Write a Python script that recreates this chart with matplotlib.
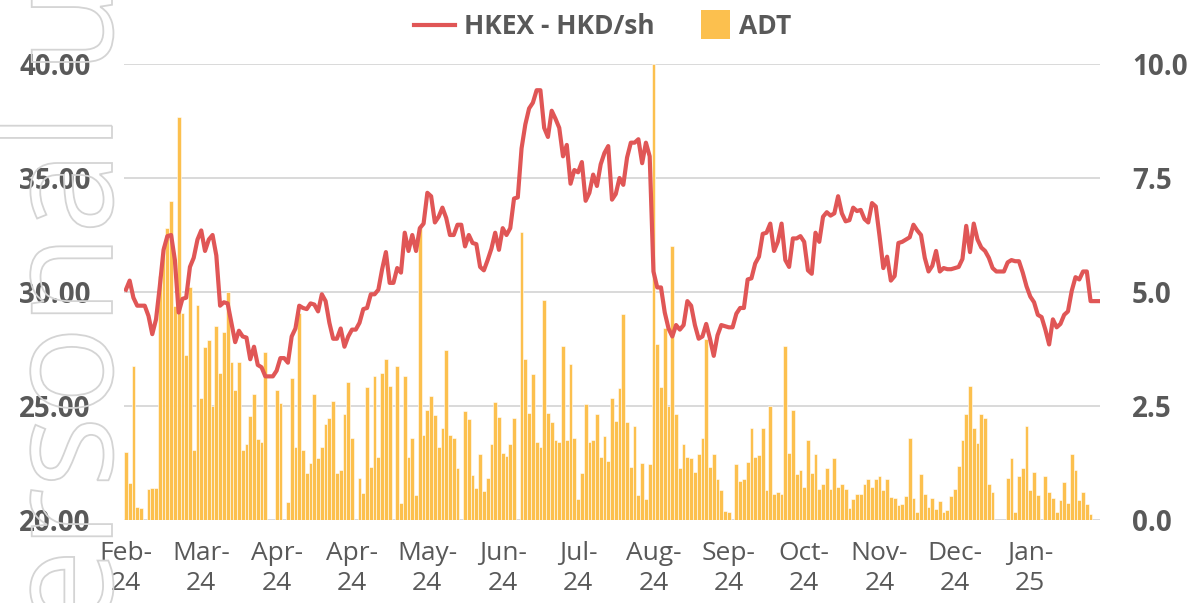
import numpy as np
import matplotlib
matplotlib.use("Agg")
import matplotlib.pyplot as plt
from matplotlib.textpath import TextPath
from matplotlib.patches import PathPatch, Patch, Rectangle
from matplotlib.lines import Line2D
from matplotlib.font_manager import FontProperties
from matplotlib.transforms import Affine2D
from matplotlib.legend_handler import HandlerPatch

# ---------------- data ----------------
tick_labels = ["Feb-\n24", "Mar-\n24", "Apr-\n24", "Apr-\n24", "May-\n24", "Jun-\n24",
               "Jul-\n24", "Aug-\n24", "Sep-\n24", "Oct-\n24", "Nov-\n24", "Dec-\n24", "Jan-\n25"]
tick_step = 20

price = [
    30.1, 30.5, 29.75, 29.4, 29.4, 29.4, 28.95, 28.15, 28.8, 30.25,
    31.85, 32.45, 32.5, 31.4, 29.1, 29.7, 29.75, 31.1, 31.5, 32.3,
    32.7, 31.8, 32.3, 32.5, 31.6, 29.4, 29.55, 29.5, 28.65, 27.8,
    28.3, 28.05, 28.0, 27.05, 27.6, 26.8, 26.7, 26.3, 26.3, 26.3,
    26.55, 27.1, 27.1, 26.9, 28.05, 28.4, 29.4, 29.3, 29.25, 29.5,
    29.45, 29.15, 29.9, 29.6, 28.65, 27.95, 27.95, 28.4, 27.6, 28.05,
    28.35, 28.35, 28.65, 29.25, 29.3, 29.9, 29.9, 30.1, 31.0, 31.75,
    30.4, 30.4, 31.05, 30.85, 32.6, 31.8, 32.5, 31.8, 32.8, 33.0,
    34.35, 34.2, 33.05, 33.3, 33.7, 33.25, 32.5, 32.5, 32.95, 32.95,
    32.0, 32.5, 32.15, 32.1, 31.1, 30.95, 31.4, 31.9, 32.6, 31.85,
    32.8, 32.5, 32.8, 34.1, 34.15, 36.3, 37.35, 38.05, 38.3, 38.85,
    38.85, 37.2, 36.8, 37.95, 37.6, 37.2, 35.95, 36.45, 34.75, 35.35,
    35.25, 35.7, 34.0, 34.35, 35.15, 34.65, 35.6, 36.1, 36.4, 34.05,
    34.3, 35.0, 34.7, 35.9, 36.55, 36.55, 36.7, 35.65, 36.55, 35.95,
    30.9, 30.2, 30.2, 29.1, 28.4, 28.05, 28.55, 28.35, 28.55, 29.6,
    29.4, 28.55, 27.95, 28.05, 28.6, 27.95, 27.2, 28.1, 28.55, 28.5,
    28.45, 28.45, 29.05, 29.3, 29.3, 30.55, 30.6, 31.25, 31.55, 32.55,
    32.6, 33.0, 31.8, 32.2, 33.0, 31.4, 31.1, 32.35, 32.35, 32.45,
    32.2, 30.95, 30.8, 32.6, 32.2, 33.3, 33.5, 33.35, 33.45, 34.2,
    33.45, 33.1, 33.15, 33.7, 33.55, 33.6, 33.2, 33.05, 33.9, 33.75,
    32.45, 31.05, 31.55, 30.5, 30.7, 32.15, 32.2, 32.3, 32.4, 32.95,
    32.7, 32.5, 31.5, 30.9, 31.15, 31.8, 30.9, 31.05, 31.0, 31.0,
    31.05, 31.1, 31.45, 32.9, 31.75, 33.0, 32.3, 31.95, 31.8, 31.5,
    31.05, 30.9, 30.9, 30.9, 31.3, 31.4, 31.35, 31.35, 30.85, 30.25,
    29.8, 29.55, 29.0, 28.9, 28.35, 27.7, 28.8, 28.45, 28.6, 29.0,
    29.15, 30.05, 30.65, 30.55, 30.9, 30.9, 29.6, 29.6, 29.6,
]

adt = [
    1.5, 0.82, 3.38, 0.28, 0.26, 0.0, 0.68, 0.7, 0.7, 5.35,
    6.0, 6.4, 7.0, 4.7, 8.83, 4.54, 3.62, 5.1, 1.53, 4.71,
    2.67, 3.8, 3.95, 2.5, 4.25, 3.23, 4.13, 5.0, 3.47, 2.85,
    3.47, 1.53, 1.67, 2.29, 2.76, 1.78, 1.72, 3.69, 0.0, 0.0,
    2.85, 2.56, 0.0, 0.4, 3.12, 1.61, 4.53, 1.53, 1.04, 1.25,
    2.76, 1.36, 1.6, 2.1, 2.24, 2.6, 1.04, 1.1, 2.32, 3.03,
    1.8, 0.0, 0.92, 0.6, 2.92, 1.17, 3.16, 1.38, 3.22, 3.53,
    2.94, 0.0, 3.38, 0.38, 3.16, 1.39, 1.79, 0.55, 6.4, 1.86,
    2.41, 2.72, 2.3, 1.61, 2.01, 3.73, 1.86, 1.79, 1.15, 0.0,
    2.38, 2.21, 0.99, 0.71, 1.45, 0.64, 0.93, 1.67, 2.58, 2.25,
    1.46, 1.4, 1.67, 2.23, 0.0, 6.32, 3.52, 2.35, 3.2, 1.7,
    1.61, 4.82, 2.35, 2.16, 1.75, 1.72, 3.82, 1.75, 3.42, 1.79,
    0.45, 1.02, 2.54, 1.7, 1.75, 2.32, 1.39, 1.85, 1.29, 2.67,
    2.18, 2.89, 4.52, 2.16, 1.17, 2.06, 0.55, 1.26, 0.45, 1.23,
    10.0, 3.87, 2.92, 4.2, 2.51, 6.01, 2.32, 1.13, 1.67, 1.39,
    1.35, 1.06, 1.45, 1.79, 3.96, 1.17, 1.45, 0.89, 0.66, 0.2,
    0.18, 0.0, 1.23, 0.86, 0.89, 1.28, 2.02, 1.38, 1.43, 2.02,
    0.66, 2.5, 0.57, 0.62, 0.57, 3.81, 1.46, 2.41, 1.0, 1.1,
    0.73, 1.75, 1.04, 1.45, 0.69, 0.79, 1.13, 0.69, 1.35, 0.73,
    0.79, 0.69, 0.26, 0.47, 0.57, 0.57, 0.79, 0.91, 0.73, 0.91,
    0.96, 0.66, 0.91, 0.5, 0.48, 0.33, 0.35, 0.53, 1.79, 0.48,
    0.18, 1.0, 0.57, 0.29, 0.48, 0.24, 0.42, 0.18, 0.22, 0.53,
    0.69, 1.18, 1.75, 2.32, 2.94, 2.02, 1.68, 2.32, 2.23, 0.8,
    0.62, 0.0, 0.0, 0.0, 0.92, 1.36, 0.18, 0.96, 1.14, 2.06,
    0.66, 1.06, 0.55, 0.0, 0.96, 0.62, 0.48, 0.18, 0.44, 0.84,
    0.37, 1.45, 1.1, 0.44, 0.61, 0.35, 0.13, 0.0, 0.0,
]

left_ticks = [20, 25, 30, 35, 40]
right_ticks = [0, 2.5, 5, 7.5, 10]

# ---------------- style ----------------
RED = "#E05656"
GOLD = "#FCC04E"
TXT = "#595959"
GRID = "#D9D9D9"
FAM = "Open Sans"

W, H = 1191, 603
fig = plt.figure(figsize=(W / 100, H / 100), dpi=100)
fig.patch.set_facecolor("white")

ax = fig.add_axes([124 / W, 1 - 520 / H, (1100 - 124) / W, (520 - 64) / H])
ax2 = ax.twinx()

x = np.arange(len(price))

# bars on ax (right-hand scale), line on ax2 (left-hand scale, drawn on top)
ax.bar(x, adt, width=1.0, color=GOLD, edgecolor="white", linewidth=0.4, zorder=2)
ax.set_ylim(0, 10)
ax.set_xlim(-0.5, len(price) - 0.5)
ax.set_yticks(right_ticks)
ax.set_yticklabels([f"{v:.1f}" for v in right_ticks])
ax.yaxis.tick_right()
ax.grid(axis="y", color=GRID, linewidth=1.4, zorder=0)
ax.set_axisbelow(True)

ax2.plot(x, price, color=RED, linewidth=3.0, solid_joinstyle="round", zorder=3)
ax2.set_ylim(20, 40)
ax2.set_yticks(left_ticks)
ax2.set_yticklabels([f"{v:.2f}" for v in left_ticks])
ax2.yaxis.tick_left()

ax.set_xticks(x[::tick_step])
ax.set_xticklabels(tick_labels, fontsize=19, family=FAM, color=TXT, linespacing=1.25)

for a in (ax, ax2):
    for s in a.spines.values():
        s.set_visible(False)
    a.tick_params(length=0)

ax.tick_params(axis="x", pad=15)
ax.tick_params(axis="y", pad=23)
ax2.tick_params(axis="y", pad=24)
for lab in ax.get_yticklabels() + ax2.get_yticklabels():
    lab.set_fontfamily(FAM)
    lab.set_fontweight("bold")
    lab.set_fontsize(20)
    lab.set_color(TXT)


# ---------------- legend ----------------
def square_patch(legend, orig_handle, xdescent, ydescent, width, height, fontsize):
    side = 1.12 * fontsize
    return Rectangle((-xdescent + width - side, -ydescent + height / 2 - side / 2), side, side,
                     facecolor=GOLD, edgecolor="none")


handles = [Line2D([], [], color=RED, linewidth=3), Patch(facecolor=GOLD)]
leg = fig.legend(handles, ["HKEX - HKD/sh", "ADT"], loc="upper center",
                 bbox_to_anchor=(603 / W, 1.018), ncol=2, frameon=False,
                 prop=FontProperties(family=FAM, weight="bold", size=19),
                 labelcolor=TXT, handlelength=1.55, handleheight=0.7,
                 handletextpad=0.35, columnspacing=1.3,
                 handler_map={Patch: HandlerPatch(patch_func=square_patch)})

# ---------------- watermark (outlined, rotated) ----------------
fp = FontProperties(family=FAM)
S = 150
wm = TextPath((0, 0), "personal use only", size=S, prop=fp)
w_pers = TextPath((0, 0), "persona", size=S, prop=fp).get_extents().x1
y0 = 440 - w_pers
wm_patch = PathPatch(wm, facecolor="none", edgecolor="#D4D4D4", linewidth=1.3,
                     transform=Affine2D().rotate_deg(90).translate(112, y0), zorder=10)
fig.add_artist(wm_patch)

fig.savefig("out.png", dpi=100)
